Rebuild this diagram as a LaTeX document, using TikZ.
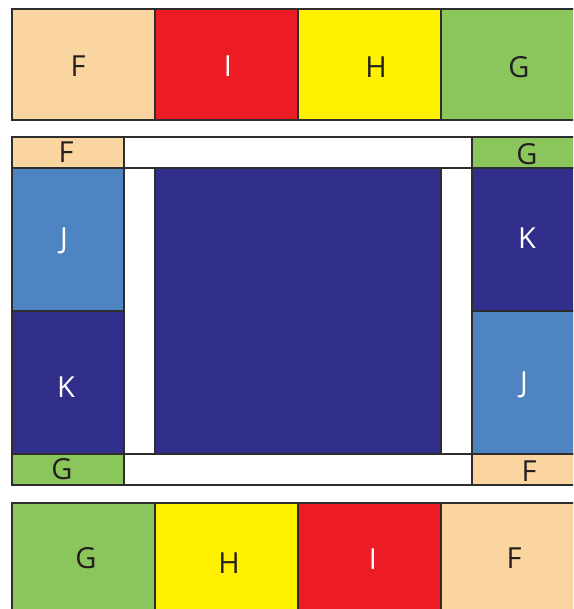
\documentclass[tikz,border=0pt]{standalone}
\usepackage{fontspec}
\setmainfont{Open Sans}
\usepackage{tikz}
\definecolor{peach}{RGB}{250,213,160}
\definecolor{brick}{RGB}{237,28,36}
\definecolor{lemon}{RGB}{255,241,0}
\definecolor{leaf}{RGB}{139,198,92}
\definecolor{sky}{RGB}{79,132,194}
\definecolor{navy}{RGB}{49,47,139}
\definecolor{ink}{RGB}{35,31,32}
\definecolor{edge}{RGB}{45,45,45}

\begin{document}
\begin{tikzpicture}[x=1pt,y=-1pt,every node/.style={font=\fontsize{29}{34}\selectfont,text=ink},
  tile/.style={draw=edge,line width=1.3pt}]
  \useasboundingbox (0,0) rectangle (573,609);
  \clip (0,0) rectangle (573,609);
  % top row
  \draw[tile,fill=peach] (12,9) rectangle (155,120);
  \draw[tile,fill=brick] (155,9) rectangle (298,120);
  \draw[tile,fill=lemon] (298,9) rectangle (441,120);
  \draw[tile,fill=leaf] (441,9) rectangle (576,120);
  \node (tF) at (78,66) {F};
  \node[text=white] (tI) at (228,66) {I};
  \node (tH) at (376,67) {H};
  \node (tG) at (519,67) {G};
  % middle frame
  \draw[tile,fill=peach] (12,137) rectangle (124,168);
  \draw[tile,fill=white] (124,137) rectangle (472,168);
  \draw[tile,fill=leaf] (472,137) rectangle (576,168);
  \draw[tile,fill=sky] (12,168) rectangle (124,311);
  \draw[tile,fill=navy] (12,311) rectangle (124,454);
  \draw[tile,fill=white] (124,168) rectangle (155,454);
  \draw[tile,fill=navy] (155,168) rectangle (441,454);
  \draw[tile,fill=white] (441,168) rectangle (472,454);
  \draw[tile,fill=navy] (472,168) rectangle (576,311);
  \draw[tile,fill=sky] (472,311) rectangle (576,454);
  \draw[tile,fill=leaf] (12,454) rectangle (124,485);
  \draw[tile,fill=white] (124,454) rectangle (472,485);
  \draw[tile,fill=peach] (472,454) rectangle (576,485);
  \node (mF) at (66,152) {F};
  \node (mG) at (527,154) {G};
  \node[text=white] (mJ) at (64,241) {J};
  \node[text=white] (mK) at (66,387) {K};
  \node[text=white] (rK) at (527,238) {K};
  \node[text=white] (rJ) at (524,385) {J};
  \node (bG) at (62,469) {G};
  \node (bF) at (529,471) {F};
  % bottom row
  \draw[tile,fill=leaf] (12,503) rectangle (155,612);
  \draw[tile,fill=lemon] (155,503) rectangle (298,612);
  \draw[tile,fill=brick] (298,503) rectangle (441,612);
  \draw[tile,fill=peach] (441,503) rectangle (576,612);
  \node (lG) at (86,558) {G};
  \node (lH) at (229,563) {H};
  \node[text=white] (lI) at (373,559) {I};
  \node (lF) at (514,558) {F};
\end{tikzpicture}
\end{document}
